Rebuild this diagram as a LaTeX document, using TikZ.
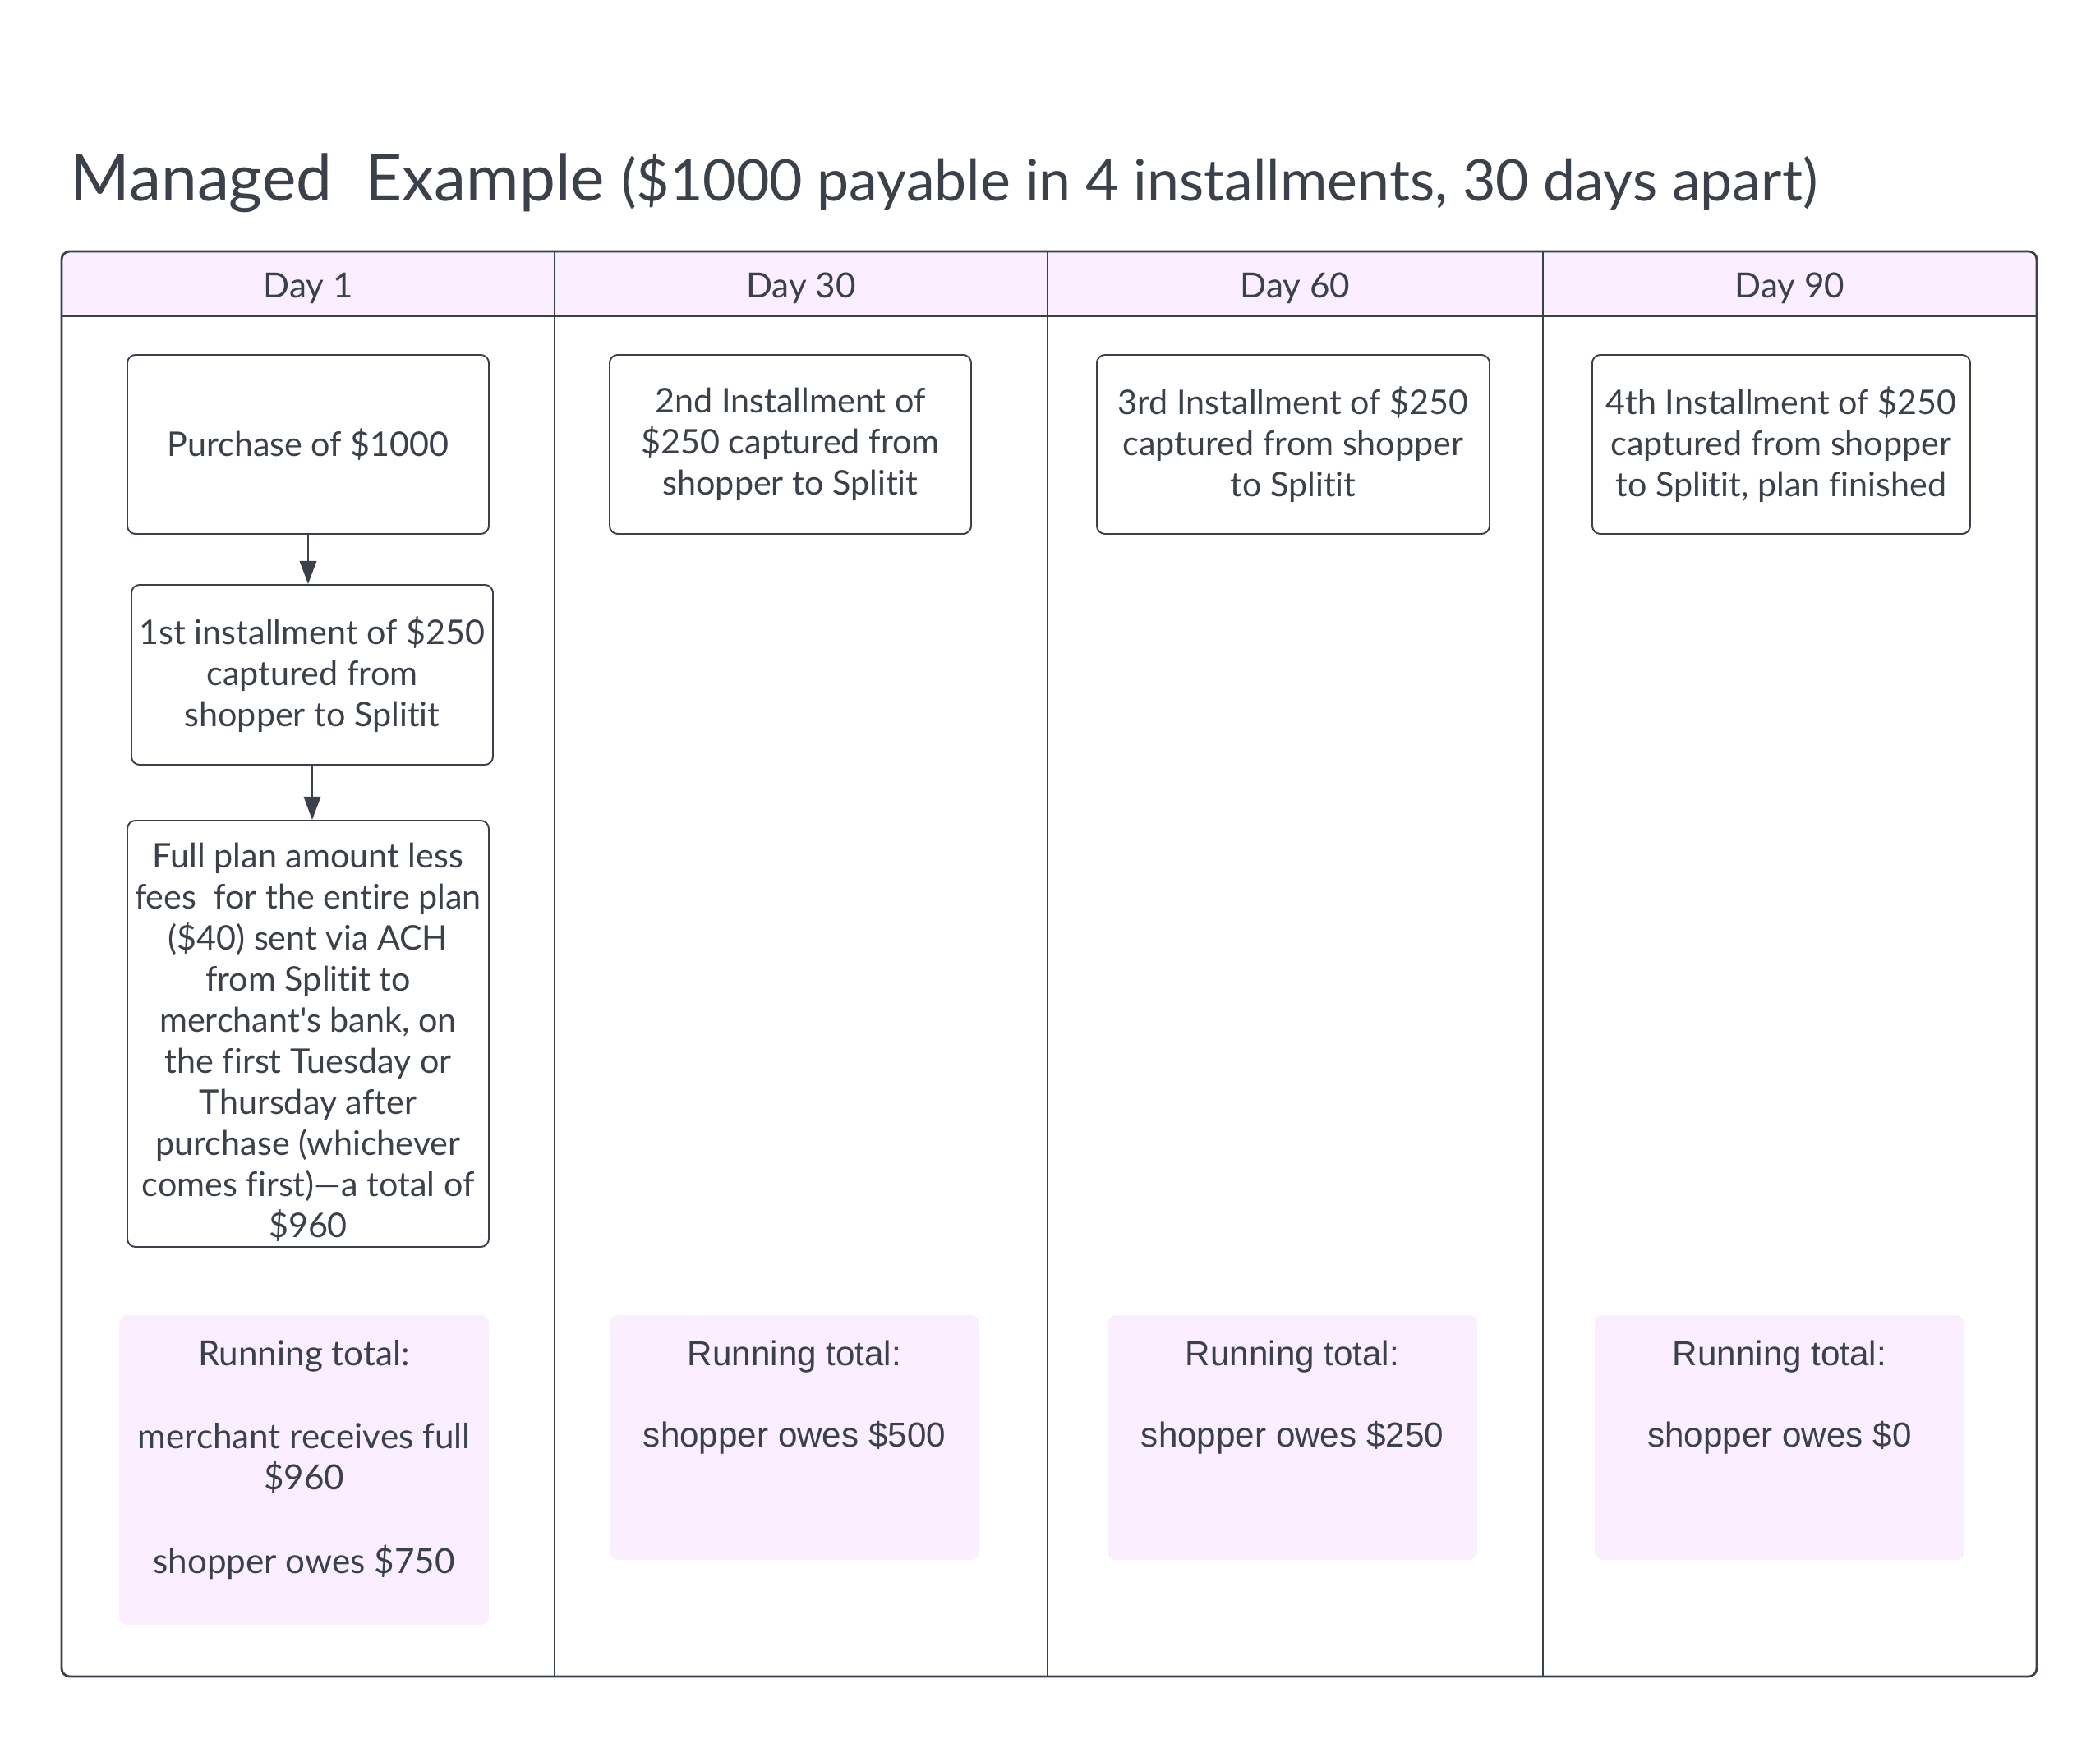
\documentclass[tikz,border=0pt]{standalone}
\usepackage{fontspec}
\setmainfont{Lato}[Ligatures={TeX,NoCommon}]
\newfontfamily\arialfont{Liberation Sans}
\usetikzlibrary{arrows.meta,positioning}
\definecolor{ink}{HTML}{3A414A}
\definecolor{lilac}{HTML}{FAEEFF}

\begin{document}
\begin{tikzpicture}[
  x=1cm,
  y=-1cm,
  font=\fontsize{12}{14.4}\selectfont,
  text=ink,
  >={Triangle[length=8pt,width=5.8pt]},
  frame/.style={draw=ink, line width=0.8pt},
  block/.style={draw=ink, line width=0.55pt, rounded corners=2.8pt, minimum width=4.4cm, minimum height=2.18cm, align=center, inner sep=2pt, font=\fontsize{11.75}{14.2}\selectfont},
  runbox/.style={fill=lilac, rounded corners=2.8pt, minimum width=4.5cm, minimum height=2.98cm, inner sep=0pt},
  runtext/.style={align=center, inner sep=0pt},
  arialtext/.style={runtext, font=\arialfont\fontsize{12}{14.1}\selectfont},
  link/.style={->, draw=ink, line width=0.6pt}
]
  \useasboundingbox (0,0) rectangle (25.56,21.17);

  \node[anchor=base west, inner sep=0pt] (title) at (0.85,2.45)
    {\fontsize{22.3}{26}\selectfont Managed\ \ Example \fontsize{19.85}{24}\selectfont(\$1000 payable in 4 installments, 30 days apart)};

  \fill[lilac] (0.75,3.85) {[rounded corners=0.1cm] -- (0.75,3.06) -- (24.79,3.06)} -- (24.79,3.85) -- cycle;
  \draw[frame, rounded corners=0.1cm] (0.75,3.06) rectangle (24.79,20.41);
  \draw[frame] (0.75,3.85) -- (24.79,3.85);
  \foreach \x in {6.75,12.75,18.78}
    \draw[frame] (\x,3.06) -- (\x,20.41);

  \node (day1) at (3.75,3.51) {Day 1};
  \node (day30) at (9.75,3.51) {Day 30};
  \node (day60) at (15.765,3.51) {Day 60};
  \node (day90) at (21.785,3.51) {Day 90};

  \node[block] (buy) at (3.75,5.41) {Purchase of \$1000};
  \node[block, minimum height=2.19cm] (inst1) at (3.80,8.215) {1st installment of \$250\\captured from\\shopper to Splitit};
  \node[block, minimum height=5.19cm, inner ysep=0pt] (payout) at (3.75,12.585)
    {\rule{0pt}{14.5pt}Full plan amount less\\fees\ \ for the entire plan\\(\$40) sent via ACH\\from Splitit to\\merchant\textquotesingle s bank, on\\the first Tuesday or\\Thursday after\\purchase (whichever\\comes first)---a total of\\\$960};

  \node[block] (inst2) at (9.62,5.41) {2nd Installment of\\\$250 captured from\\shopper to Splitit};
  \node[block, minimum width=4.78cm] (inst3) at (15.74,5.41) {3rd Installment of \$250\\captured from shopper\\to Splitit};
  \node[block, minimum width=4.6cm] (inst4) at (21.68,5.41) {4th Installment of \$250\\captured from shopper\\to Splitit, plan finished};

  \draw[link] (buy.south) -- (buy.south |- inst1.north);
  \draw[link] (inst1.south) -- (inst1.south |- payout.north);

  \node[runbox, minimum height=3.77cm] (run1) at (3.70,17.895) {};
  \node[runbox] (run2) at (9.67,17.50) {};
  \node[runbox] (run3) at (15.73,17.50) {};
  \node[runbox] (run4) at (21.66,17.50) {};

  \node[runtext, below=0.30cm of run1.north] (total1) {Running total:\\[14.4pt]merchant receives full\\\$960\\[14.4pt]shopper owes \$750};
  \node[arialtext, below=0.31cm of run2.north] (total2) {Running total:\\[14.1pt]shopper owes \$500};
  \node[arialtext, below=0.31cm of run3.north] (total3) {Running total:\\[14.1pt]shopper owes \$250};
  \node[arialtext, below=0.31cm of run4.north] (total4) {Running total:\\[14.1pt]shopper owes \$0};
\end{tikzpicture}
\end{document}
